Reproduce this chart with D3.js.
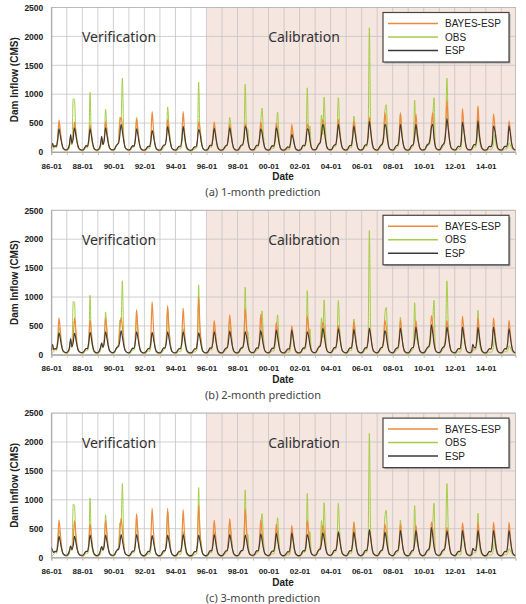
<!DOCTYPE html>
<html>
<head>
<meta charset="utf-8">
<script src="https://cdn.jsdelivr.net/npm/d3@7"></script>
<style>
  body { margin: 0; background: #fff; }
  svg { display: block; }
</style>
</head>
<body>
<svg id="chart" width="526" height="604"></svg>
<script>

// ---- data (monthly, 1986-01 .. 2015-12), one row per year ----
var startMonth = new Date(1986, 0, 1);
var calibrationStart = new Date(1996, 0, 1);
var yTicks = [0, 500, 1000, 1500, 2000, 2500];
var seriesNames = ['BAYES-ESP', 'OBS', 'ESP'];
var periodLabels = ['Verification', 'Calibration'];
var captions = ['(a) 1-month prediction', '(b) 2-month prediction', '(c) 3-month prediction'];

var obs = [
    30, 35, 60, 90, 70, 180, 480, 330, 150, 60, 40, 30,       // 86
    25, 30, 70, 160, 120, 920, 910, 300, 150, 70, 45, 30,     // 87
    20, 25, 50, 80, 70, 150, 1030, 260, 120, 50, 30, 20,      // 88
    20, 30, 60, 180, 120, 200, 740, 420, 200, 70, 40, 25,     // 89
    25, 35, 80, 120, 150, 600, 560, 1280, 300, 90, 50, 30,    // 90
    20, 25, 50, 90, 80, 180, 600, 400, 170, 60, 35, 25,       // 91
    20, 25, 45, 70, 60, 140, 380, 330, 160, 50, 30, 20,       // 92
    20, 25, 50, 80, 120, 200, 780, 450, 230, 70, 40, 25,      // 93
    20, 25, 40, 60, 50, 160, 450, 260, 100, 40, 25, 20,       // 94
    15, 20, 40, 50, 60, 120, 1210, 350, 260, 80, 40, 25,      // 95
    20, 25, 60, 90, 80, 250, 450, 300, 120, 50, 35, 25,       // 96
    20, 30, 50, 80, 110, 300, 600, 420, 170, 60, 40, 25,      // 97
    25, 30, 60, 100, 120, 230, 1170, 380, 400, 100, 50, 30,   // 98
    25, 30, 50, 80, 90, 200, 500, 760, 350, 90, 45, 30,       // 99
    20, 25, 50, 70, 60, 150, 350, 690, 300, 80, 40, 25,       // 00
    20, 25, 40, 50, 40, 120, 400, 300, 120, 50, 30, 20,       // 01
    20, 30, 60, 100, 90, 150, 1110, 300, 450, 110, 50, 30,    // 02
    25, 40, 80, 120, 180, 640, 300, 950, 420, 120, 60, 35,    // 03
    25, 35, 70, 90, 100, 280, 940, 450, 200, 70, 40, 30,      // 04
    20, 25, 50, 80, 70, 200, 620, 420, 200, 60, 40, 25,       // 05
    25, 30, 60, 100, 90, 250, 2150, 420, 150, 60, 40, 25,     // 06
    20, 30, 60, 90, 120, 200, 700, 820, 400, 100, 45, 30,     // 07
    20, 25, 50, 70, 90, 180, 650, 380, 150, 50, 30, 20,       // 08
    20, 25, 50, 80, 100, 900, 350, 250, 150, 60, 35, 25,      // 09
    25, 30, 70, 100, 120, 180, 400, 600, 940, 100, 50, 30,    // 10
    25, 30, 60, 90, 130, 400, 1280, 500, 200, 70, 40, 30,     // 11
    20, 25, 40, 60, 40, 80, 400, 360, 230, 70, 40, 30,        // 12
    25, 30, 60, 90, 80, 180, 770, 250, 100, 50, 30, 20,       // 13
    20, 25, 40, 50, 40, 60, 150, 300, 120, 60, 35, 25,        // 14
    20, 25, 40, 60, 50, 70, 160, 120, 70, 45, 30, 20          // 15
];

var bayes1 = [
    50, 110, 80, 100, 90, 250, 550, 380, 180, 70, 40, 30,
    30, 60, 120, 250, 140, 280, 520, 380, 180, 70, 40, 30,
    25, 40, 70, 100, 90, 220, 470, 330, 150, 60, 35, 25,
    30, 60, 110, 230, 130, 250, 520, 360, 170, 70, 40, 30,
    30, 50, 100, 130, 160, 480, 600, 450, 220, 80, 45, 35,
    25, 40, 75, 105, 100, 250, 570, 380, 170, 65, 35, 25,
    25, 35, 65, 90, 90, 260, 700, 400, 160, 60, 35, 25,
    25, 40, 80, 110, 120, 260, 560, 380, 170, 70, 40, 30,
    25, 35, 65, 90, 90, 270, 700, 380, 150, 60, 35, 25,
    20, 30, 60, 80, 85, 220, 520, 420, 180, 70, 40, 30,
    25, 40, 80, 110, 110, 270, 520, 340, 150, 60, 35, 25,
    25, 40, 70, 100, 120, 280, 480, 330, 150, 60, 35, 25,
    25, 40, 80, 110, 120, 260, 480, 420, 200, 80, 40, 30,
    30, 40, 80, 110, 110, 250, 520, 380, 180, 75, 40, 30,
    25, 35, 75, 100, 100, 230, 500, 370, 170, 70, 35, 25,
    25, 35, 60, 80, 70, 170, 480, 300, 130, 50, 30, 20,
    25, 40, 80, 110, 110, 230, 480, 420, 210, 80, 40, 30,
    30, 50, 100, 140, 170, 350, 560, 480, 230, 90, 45, 35,
    30, 45, 90, 120, 130, 300, 560, 380, 170, 70, 40, 30,
    25, 40, 80, 110, 110, 270, 540, 370, 170, 65, 35, 25,
    30, 45, 90, 120, 120, 300, 600, 400, 180, 70, 40, 30,
    25, 45, 90, 120, 150, 300, 680, 480, 220, 80, 40, 30,
    25, 40, 80, 110, 120, 290, 680, 360, 160, 65, 35, 25,
    25, 40, 80, 115, 130, 320, 660, 370, 165, 65, 35, 25,
    30, 45, 95, 130, 150, 270, 500, 680, 260, 90, 45, 35,
    30, 50, 100, 130, 170, 400, 900, 480, 210, 80, 45, 35,
    25, 40, 75, 100, 90, 220, 750, 450, 200, 75, 40, 30,
    30, 45, 90, 130, 120, 290, 800, 360, 150, 60, 35, 25,
    25, 40, 75, 100, 90, 180, 660, 450, 230, 80, 40, 30,
    25, 40, 75, 100, 90, 200, 540, 380, 150, 60, 35, 25
];

var esp1 = [
    60, 150, 90, 110, 100, 220, 400, 280, 160, 80, 50, 40,
    40, 60, 120, 300, 150, 230, 420, 300, 170, 80, 50, 40,
    35, 45, 80, 110, 100, 200, 400, 290, 150, 70, 45, 35,
    40, 60, 120, 270, 130, 210, 420, 300, 160, 80, 50, 40,
    40, 55, 100, 130, 150, 280, 480, 350, 200, 90, 55, 45,
    35, 45, 80, 110, 100, 200, 400, 300, 160, 75, 45, 35,
    35, 45, 75, 100, 95, 190, 370, 280, 150, 70, 45, 35,
    35, 50, 90, 120, 120, 230, 440, 310, 170, 80, 50, 40,
    35, 45, 80, 100, 100, 210, 440, 300, 150, 70, 45, 35,
    30, 40, 70, 90, 90, 190, 390, 330, 170, 80, 45, 35,
    35, 45, 90, 120, 110, 230, 410, 290, 150, 70, 45, 35,
    35, 45, 80, 110, 120, 250, 420, 300, 160, 75, 45, 35,
    35, 50, 90, 120, 120, 230, 440, 380, 200, 90, 50, 40,
    40, 50, 90, 120, 110, 220, 400, 330, 190, 85, 50, 40,
    35, 45, 85, 110, 100, 200, 420, 330, 180, 80, 45, 35,
    35, 45, 70, 90, 80, 150, 300, 240, 130, 60, 40, 30,
    35, 45, 90, 120, 110, 200, 400, 370, 210, 90, 50, 40,
    40, 55, 100, 140, 160, 300, 480, 400, 220, 95, 55, 45,
    40, 50, 95, 120, 130, 270, 480, 330, 170, 80, 50, 40,
    35, 45, 85, 115, 110, 240, 450, 320, 170, 75, 45, 35,
    40, 50, 95, 125, 120, 260, 530, 360, 180, 80, 50, 40,
    35, 50, 90, 120, 140, 250, 480, 420, 220, 90, 50, 40,
    35, 45, 85, 110, 120, 240, 480, 310, 160, 75, 45, 35,
    35, 45, 85, 115, 130, 270, 480, 320, 165, 75, 45, 35,
    40, 50, 95, 130, 140, 230, 420, 480, 240, 100, 55, 45,
    40, 55, 100, 130, 160, 320, 580, 400, 200, 90, 55, 45,
    35, 45, 80, 100, 90, 180, 520, 380, 200, 85, 50, 40,
    40, 50, 95, 130, 120, 240, 540, 300, 150, 70, 45, 35,
    35, 45, 80, 100, 90, 150, 450, 380, 220, 90, 50, 40,
    35, 45, 80, 100, 90, 170, 450, 320, 150, 70, 45, 35
];

var bayes2 = [
    60, 120, 90, 110, 100, 280, 640, 430, 190, 75, 45, 35,
    35, 65, 120, 240, 150, 300, 640, 440, 190, 75, 45, 35,
    30, 45, 80, 110, 100, 260, 600, 400, 170, 65, 40, 30,
    35, 60, 110, 210, 140, 290, 640, 430, 190, 75, 45, 35,
    35, 55, 100, 140, 170, 420, 650, 480, 220, 85, 50, 40,
    30, 45, 80, 110, 110, 300, 780, 460, 190, 70, 40, 30,
    30, 40, 70, 100, 100, 320, 920, 480, 180, 65, 40, 30,
    30, 45, 85, 115, 130, 320, 850, 460, 190, 75, 45, 35,
    30, 40, 70, 95, 100, 300, 810, 430, 170, 65, 40, 30,
    25, 35, 65, 90, 95, 280, 1000, 500, 200, 75, 45, 35,
    30, 45, 85, 115, 120, 290, 590, 380, 160, 65, 40, 30,
    30, 45, 80, 110, 130, 320, 690, 420, 170, 65, 40, 30,
    30, 45, 85, 120, 130, 300, 800, 500, 220, 85, 45, 35,
    35, 45, 85, 115, 120, 280, 700, 440, 190, 80, 45, 35,
    30, 40, 80, 105, 110, 250, 560, 400, 180, 75, 40, 30,
    30, 40, 65, 85, 80, 200, 500, 330, 140, 55, 35, 25,
    30, 45, 85, 115, 120, 270, 670, 460, 210, 85, 45, 35,
    35, 55, 105, 145, 170, 340, 560, 480, 230, 95, 50, 40,
    35, 50, 95, 125, 130, 290, 510, 370, 170, 75, 45, 35,
    30, 45, 85, 115, 110, 280, 580, 380, 170, 70, 40, 30,
    35, 50, 95, 125, 125, 270, 460, 360, 170, 75, 45, 35,
    30, 50, 90, 120, 140, 280, 600, 460, 210, 85, 45, 35,
    30, 45, 85, 115, 120, 280, 600, 360, 160, 70, 40, 30,
    30, 45, 85, 115, 130, 290, 590, 370, 165, 70, 40, 30,
    35, 50, 95, 130, 150, 300, 680, 520, 240, 95, 50, 40,
    35, 50, 100, 130, 160, 310, 590, 420, 200, 85, 50, 40,
    30, 45, 80, 105, 95, 230, 670, 430, 200, 80, 45, 35,
    35, 50, 90, 130, 120, 270, 640, 360, 160, 70, 40, 30,
    30, 45, 80, 105, 95, 210, 640, 420, 200, 80, 45, 35,
    30, 45, 80, 105, 95, 220, 600, 380, 160, 65, 40, 30
];

var esp2 = [
    70, 180, 90, 110, 100, 210, 380, 280, 150, 75, 50, 40,
    40, 60, 110, 280, 140, 210, 370, 280, 150, 75, 50, 40,
    40, 50, 85, 110, 105, 210, 390, 290, 150, 70, 45, 35,
    40, 60, 120, 200, 130, 215, 400, 290, 155, 75, 50, 40,
    40, 55, 100, 130, 140, 240, 420, 310, 170, 80, 50, 40,
    35, 50, 85, 115, 110, 215, 400, 295, 155, 75, 45, 35,
    35, 50, 80, 110, 105, 205, 390, 285, 150, 70, 45, 35,
    35, 50, 90, 120, 115, 215, 400, 290, 155, 75, 45, 35,
    35, 50, 85, 110, 110, 210, 400, 290, 150, 70, 45, 35,
    35, 45, 80, 105, 105, 200, 380, 290, 155, 75, 45, 35,
    35, 50, 90, 120, 115, 215, 400, 290, 150, 70, 45, 35,
    35, 50, 85, 115, 120, 220, 410, 295, 155, 75, 45, 35,
    35, 50, 90, 120, 120, 215, 400, 310, 170, 80, 50, 40,
    40, 50, 90, 120, 115, 220, 420, 310, 170, 80, 50, 40,
    35, 50, 90, 115, 110, 220, 430, 310, 165, 75, 45, 35,
    35, 50, 80, 105, 100, 210, 430, 300, 150, 70, 45, 35,
    35, 50, 90, 120, 115, 215, 400, 320, 175, 80, 50, 40,
    40, 55, 100, 135, 150, 260, 460, 360, 190, 85, 50, 40,
    40, 55, 95, 125, 125, 240, 450, 320, 165, 75, 50, 40,
    35, 50, 90, 120, 115, 230, 440, 310, 160, 75, 45, 35,
    40, 55, 95, 125, 120, 240, 460, 330, 170, 75, 50, 40,
    35, 50, 90, 120, 130, 230, 420, 340, 180, 80, 50, 40,
    35, 50, 90, 115, 120, 240, 460, 320, 160, 75, 45, 35,
    35, 50, 90, 120, 130, 250, 480, 330, 165, 75, 45, 35,
    40, 55, 95, 130, 140, 260, 520, 380, 190, 85, 50, 40,
    40, 55, 100, 130, 145, 250, 480, 350, 180, 80, 50, 40,
    35, 50, 85, 110, 105, 220, 480, 340, 175, 80, 50, 40,
    40, 55, 180, 130, 120, 230, 470, 320, 160, 75, 45, 35,
    35, 50, 85, 110, 100, 210, 480, 330, 165, 75, 45, 35,
    35, 50, 85, 110, 100, 220, 450, 310, 155, 70, 45, 35
];

var bayes3 = [
    180, 120, 90, 110, 100, 290, 650, 430, 190, 75, 45, 35,
    35, 60, 110, 200, 150, 300, 640, 430, 190, 75, 45, 35,
    30, 45, 80, 110, 100, 250, 580, 390, 170, 65, 40, 30,
    35, 60, 110, 190, 140, 290, 640, 430, 190, 75, 45, 35,
    35, 55, 100, 140, 170, 400, 680, 480, 220, 85, 50, 40,
    30, 45, 80, 110, 110, 300, 760, 450, 190, 70, 40, 30,
    30, 40, 70, 100, 100, 310, 850, 460, 180, 65, 40, 30,
    30, 45, 85, 115, 130, 320, 850, 460, 190, 75, 45, 35,
    30, 40, 70, 95, 100, 300, 830, 430, 170, 65, 40, 30,
    25, 35, 65, 90, 95, 280, 900, 480, 200, 75, 45, 35,
    30, 45, 85, 115, 120, 300, 650, 400, 170, 65, 40, 30,
    30, 45, 80, 110, 130, 310, 670, 420, 170, 65, 40, 30,
    30, 45, 85, 120, 130, 300, 840, 500, 220, 85, 45, 35,
    35, 45, 85, 115, 120, 280, 650, 430, 190, 80, 45, 35,
    30, 40, 80, 105, 110, 250, 580, 400, 180, 75, 40, 30,
    30, 40, 65, 85, 80, 210, 560, 350, 150, 55, 35, 25,
    30, 45, 85, 115, 120, 270, 640, 450, 210, 85, 45, 35,
    35, 55, 105, 145, 170, 340, 560, 470, 230, 95, 50, 40,
    35, 50, 95, 125, 130, 280, 450, 350, 170, 75, 45, 35,
    30, 45, 85, 115, 110, 280, 600, 390, 170, 70, 40, 30,
    35, 50, 95, 125, 125, 270, 480, 370, 170, 75, 45, 35,
    30, 50, 90, 120, 140, 280, 580, 450, 210, 85, 45, 35,
    30, 45, 85, 115, 120, 280, 580, 360, 160, 70, 40, 30,
    30, 45, 85, 115, 130, 280, 560, 360, 165, 70, 40, 30,
    35, 50, 95, 130, 150, 290, 620, 500, 240, 95, 50, 40,
    35, 50, 100, 130, 160, 300, 520, 400, 200, 85, 50, 40,
    30, 45, 80, 105, 95, 230, 600, 420, 200, 80, 45, 35,
    35, 50, 150, 130, 120, 260, 600, 360, 160, 70, 40, 30,
    30, 45, 80, 105, 95, 210, 610, 420, 200, 80, 45, 35,
    30, 45, 80, 105, 95, 220, 610, 380, 160, 65, 40, 30
];

var esp3 = [
    170, 120, 90, 110, 100, 200, 370, 270, 150, 75, 50, 40,
    40, 60, 110, 200, 140, 205, 370, 275, 150, 75, 50, 40,
    40, 50, 85, 110, 105, 210, 390, 285, 150, 70, 45, 35,
    40, 60, 120, 190, 130, 210, 390, 285, 155, 75, 50, 40,
    40, 55, 100, 130, 140, 225, 400, 300, 165, 80, 50, 40,
    35, 50, 85, 115, 110, 215, 400, 290, 155, 75, 45, 35,
    35, 50, 80, 110, 105, 205, 380, 280, 150, 70, 45, 35,
    35, 50, 90, 120, 115, 210, 390, 285, 155, 75, 45, 35,
    35, 50, 85, 110, 110, 210, 400, 290, 150, 70, 45, 35,
    35, 45, 80, 105, 105, 205, 390, 290, 155, 75, 45, 35,
    35, 50, 90, 120, 115, 215, 400, 290, 150, 70, 45, 35,
    35, 50, 85, 115, 120, 215, 400, 290, 155, 75, 45, 35,
    35, 50, 90, 120, 120, 210, 390, 300, 165, 80, 50, 40,
    40, 50, 90, 120, 115, 220, 410, 305, 165, 80, 50, 40,
    35, 50, 90, 115, 110, 220, 420, 305, 160, 75, 45, 35,
    35, 50, 80, 105, 100, 215, 430, 300, 150, 70, 45, 35,
    35, 50, 90, 120, 115, 215, 400, 315, 170, 80, 50, 40,
    40, 55, 100, 135, 145, 245, 430, 340, 180, 85, 50, 40,
    40, 55, 95, 125, 125, 235, 440, 315, 165, 75, 50, 40,
    35, 50, 90, 120, 115, 230, 440, 310, 160, 75, 45, 35,
    40, 55, 95, 125, 120, 250, 480, 340, 170, 75, 50, 40,
    35, 50, 90, 120, 130, 235, 440, 340, 180, 80, 50, 40,
    35, 50, 90, 115, 120, 240, 470, 320, 160, 75, 45, 35,
    35, 50, 90, 120, 130, 245, 470, 325, 165, 75, 45, 35,
    40, 55, 95, 130, 140, 260, 520, 370, 185, 85, 50, 40,
    40, 55, 100, 130, 140, 240, 460, 340, 175, 80, 50, 40,
    35, 50, 85, 110, 105, 220, 470, 335, 170, 80, 50, 40,
    40, 55, 160, 130, 120, 225, 470, 320, 160, 75, 45, 35,
    35, 50, 85, 110, 100, 215, 470, 330, 165, 75, 45, 35,
    35, 50, 85, 110, 100, 220, 470, 315, 155, 70, 45, 35
];

// ---- layout ----
var colors = {'BAYES-ESP': '#ee8a3f', 'OBS': '#a4cc45', 'ESP': '#3a3a3a'};
var axisFont = "'Liberation Sans', Arial, sans-serif";
var textFont = "'Noto Sans', 'Open Sans', sans-serif";
var left = 51.3, right = 515.5, plotH = 144.5;
var panelTops = [7.5, 210.3, 413.1];

var panels = [
    {caption: captions[0], bayes: bayes1, esp: esp1},
    {caption: captions[1], bayes: bayes2, esp: esp2},
    {caption: captions[2], bayes: bayes3, esp: esp3}
];

var dates = obs.map(function(d, i) { return d3.timeMonth.offset(startMonth, i); });
var lastMonth = dates[dates.length - 1];

var x = d3.scaleTime().domain([startMonth, lastMonth]).range([left, right]);
var years = d3.timeYear.range(startMonth, new Date(2016, 0, 1));

var svg = d3.select('#chart');

panels.forEach(function(p, pi) {
    var top = panelTops[pi];
    var bottom = top + plotH;
    var y = d3.scaleLinear().domain([0, 2500]).range([bottom, top]);
    var g = svg.append('g');

    g.append('clipPath').attr('id', 'clip' + pi)
        .append('rect')
        .attr('x', left).attr('y', top - 1)
        .attr('width', right - left).attr('height', plotH + 1);

    // calibration shading
    g.append('rect')
        .attr('x', x(calibrationStart)).attr('y', top)
        .attr('width', right - x(calibrationStart)).attr('height', plotH)
        .attr('fill', '#f6e6e0');

    // gridlines
    g.selectAll('.hgrid').data(yTicks).enter().append('line')
        .attr('x1', left).attr('x2', right)
        .attr('y1', function(d) { return y(d); })
        .attr('y2', function(d) { return y(d); })
        .attr('stroke', '#c4c4c4').attr('stroke-width', 0.8);

    g.selectAll('.vgrid').data(years.slice(1)).enter().append('line')
        .attr('x1', function(d) { return x(d); })
        .attr('x2', function(d) { return x(d); })
        .attr('y1', top).attr('y2', bottom)
        .attr('stroke', '#c4c4c4').attr('stroke-width', 0.8);

    g.append('rect')
        .attr('x', left).attr('y', top)
        .attr('width', right - left).attr('height', plotH)
        .attr('fill', 'none').attr('stroke', '#b4b4b4').attr('stroke-width', 0.8);

    // period labels
    g.append('text')
        .attr('x', 119).attr('y', top + 34.5)
        .attr('text-anchor', 'middle')
        .style('font-family', textFont).style('font-size', '14px').style('fill', '#333')
        .text(periodLabels[0]);
    g.append('text')
        .attr('x', 304).attr('y', top + 34.5)
        .attr('text-anchor', 'middle')
        .style('font-family', textFont).style('font-size', '14px').style('fill', '#333')
        .text(periodLabels[1]);

    // series
    var line = d3.line()
        .curve(d3.curveMonotoneX)
        .x(function(d, i) { return x(dates[i]); })
        .y(function(d) { return y(d); });

    var series = [
        {name: 'OBS', values: obs, width: 1},
        {name: 'BAYES-ESP', values: p.bayes, width: 1.2},
        {name: 'ESP', values: p.esp, width: 1.1}
    ];

    g.append('g').attr('clip-path', 'url(#clip' + pi + ')')
        .selectAll('path').data(series).enter().append('path')
        .attr('d', function(d) { return line(d.values); })
        .attr('fill', 'none')
        .attr('stroke', function(d) { return colors[d.name]; })
        .attr('stroke-width', function(d) { return d.width; })
        .attr('stroke-linejoin', 'round');

    // axes
    var xAxis = d3.axisBottom(x)
        .tickValues(years)
        .tickSize(3)
        .tickPadding(8)
        .tickFormat(function(d) { return d.getFullYear() % 2 === 0 ? d3.timeFormat('%y-%m')(d) : ''; });

    var gx = g.append('g').attr('transform', 'translate(0,' + bottom + ')').call(xAxis);
    gx.select('.domain').attr('stroke', '#999').attr('stroke-width', 0.8);
    gx.selectAll('.tick line').attr('stroke', '#b4b4b4').attr('stroke-width', 0.8);
    gx.selectAll('.tick text')
        .style('font-family', axisFont).style('font-size', '8px')
        .style('font-weight', 'bold').style('fill', '#222');

    var yAxis = d3.axisLeft(y).tickValues(yTicks).tickSize(0).tickPadding(8)
        .tickFormat(d3.format('d'));
    var gy = g.append('g').attr('transform', 'translate(' + left + ',0)').call(yAxis);
    gy.select('.domain').attr('stroke', '#999').attr('stroke-width', 0.8);
    gy.selectAll('.tick text')
        .style('font-family', axisFont).style('font-size', '8.5px')
        .style('font-weight', 'bold').style('fill', '#222');

    g.append('text')
        .attr('transform', 'translate(14,' + (top + plotH / 2) + ') rotate(-90)')
        .attr('text-anchor', 'middle')
        .attr('dy', '0.35em')
        .style('font-family', axisFont).style('font-size', '10px')
        .style('font-weight', 'bold').style('fill', '#222')
        .text('Dam Inflow (CMS)');

    g.append('text')
        .attr('x', 283).attr('y', bottom + 28)
        .attr('text-anchor', 'middle')
        .style('font-family', axisFont).style('font-size', '10px')
        .style('font-weight', 'bold').style('fill', '#222')
        .text('Date');

    g.append('text')
        .attr('x', 263).attr('y', bottom + 44)
        .attr('text-anchor', 'middle')
        .style('font-family', textFont).style('font-size', '11px').style('fill', '#444')
        .text(p.caption);

    // legend
    var lg = g.append('g').attr('transform', 'translate(383,' + (top + 5) + ')');
    lg.append('rect').attr('x', 1.5).attr('y', 1.5).attr('width', 126).attr('height', 49.5)
        .attr('fill', '#aaa');
    lg.append('rect').attr('width', 126).attr('height', 49.5)
        .attr('fill', '#fff').attr('stroke', '#444').attr('stroke-width', 1.2);

    var items = lg.selectAll('.item').data(seriesNames).enter().append('g')
        .attr('transform', function(d, i) { return 'translate(0,' + (11 + i * 13.5) + ')'; });
    items.append('line')
        .attr('x1', 5).attr('x2', 55)
        .attr('stroke', function(d) { return colors[d]; })
        .attr('stroke-width', 1.5);
    items.append('text')
        .attr('x', 62).attr('dy', '0.35em')
        .style('font-family', axisFont).style('font-size', '10px').style('fill', '#222')
        .text(function(d) { return d; });
});

</script>
</body>
</html>
